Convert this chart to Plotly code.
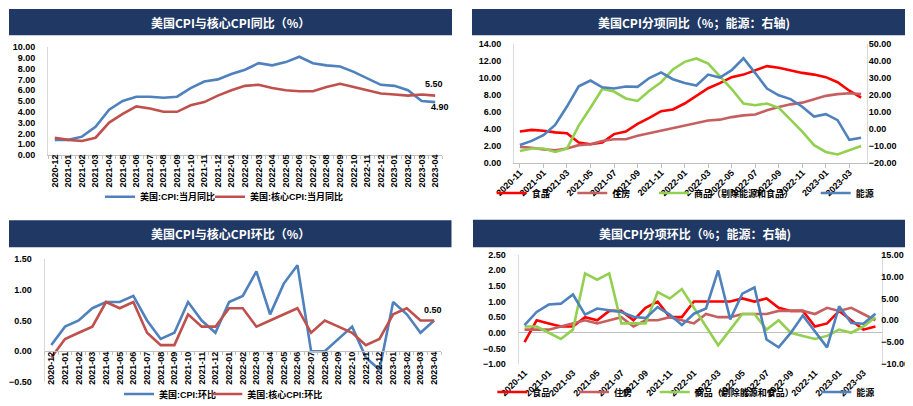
import plotly.graph_objects as go

W, H = 913, 406
def fx(p): return p / W
def fy(p): return 1 - p / H

# ---------------- data ----------------
months_a = ["2020-12", "2021-01", "2021-02", "2021-03", "2021-04", "2021-05", "2021-06",
            "2021-07", "2021-08", "2021-09", "2021-10", "2021-11", "2021-12",
            "2022-01", "2022-02", "2022-03", "2022-04", "2022-05", "2022-06",
            "2022-07", "2022-08", "2022-09", "2022-10", "2022-11", "2022-12",
            "2023-01", "2023-02", "2023-03", "2023-04"]
months_b = ["2020-11"] + months_a

cpi_yoy = [1.4, 1.4, 1.7, 2.6, 4.2, 5.0, 5.4, 5.4, 5.3, 5.4, 6.2, 6.8, 7.0, 7.5, 7.9,
           8.5, 8.3, 8.6, 9.1, 8.5, 8.3, 8.2, 7.7, 7.1, 6.5, 6.4, 6.0, 5.0, 4.9]
core_yoy = [1.6, 1.4, 1.3, 1.6, 3.0, 3.8, 4.5, 4.3, 4.0, 4.0, 4.6, 4.9, 5.5, 6.0, 6.4,
            6.5, 6.2, 6.0, 5.9, 5.9, 6.3, 6.6, 6.3, 6.0, 5.7, 5.6, 5.5, 5.6, 5.5]

cpi_mom = [0.1, 0.4, 0.5, 0.7, 0.8, 0.8, 0.9, 0.5, 0.2, 0.3, 0.8, 0.5, 0.3, 0.8, 0.9,
           1.3, 0.6, 1.1, 1.4, 0.0, 0.0, 0.2, 0.4, -0.1, -0.3, 0.8, 0.6, 0.3, 0.5]
core_mom = [-0.1, 0.2, 0.3, 0.4, 0.8, 0.7, 0.8, 0.3, 0.1, 0.1, 0.6, 0.4, 0.4, 0.7, 0.7,
            0.4, 0.5, 0.6, 0.7, 0.3, 0.5, 0.4, 0.3, 0.1, 0.2, 0.6, 0.7, 0.5, 0.5]

food_yoy = [3.7, 3.9, 3.8, 3.6, 3.5, 2.4, 2.2, 2.4, 3.4, 3.7, 4.6, 5.3, 6.1, 6.3, 7.0,
            7.9, 8.8, 9.4, 10.1, 10.4, 10.9, 11.4, 11.2, 10.9, 10.6, 10.4, 10.1, 9.5, 8.5, 7.7]
shelter_yoy = [1.9, 1.8, 1.6, 1.5, 1.7, 2.1, 2.2, 2.6, 2.8, 2.8, 3.2, 3.5, 3.8, 4.1, 4.4,
               4.7, 5.0, 5.1, 5.4, 5.6, 5.7, 6.2, 6.6, 6.9, 7.1, 7.5, 7.9, 8.1, 8.2, 8.1]
goods_yoy = [1.4, 1.7, 1.7, 1.3, 1.7, 4.4, 6.5, 8.7, 8.4, 7.6, 7.3, 8.5, 9.5, 11.0, 11.9,
             12.3, 11.7, 10.2, 8.7, 7.0, 6.8, 7.0, 6.5, 5.1, 3.7, 2.1, 1.3, 1.0, 1.5, 2.0]
energy_yoy = [-9.4, -7.0, -3.6, 2.4, 13.2, 25.1, 28.5, 24.5, 23.8, 25.0, 24.8, 30.0, 33.3, 29.3, 27.0,
              25.6, 32.0, 30.3, 34.6, 41.6, 32.9, 23.8, 19.8, 17.6, 13.1, 7.3, 8.7, 5.2, -6.4, -5.1]

food_mom = [-0.3, 0.4, 0.3, 0.2, 0.2, 0.5, 0.4, 0.7, 0.7, 0.4, 0.8, 1.0, 0.5, 0.5, 1.0,
            1.0, 1.0, 1.0, 1.1, 1.0, 1.1, 0.8, 0.7, 0.7, 0.2, 0.3, 0.7, 0.4, 0.1, 0.2]
shelter_mom = [0.1, 0.1, 0.1, 0.2, 0.3, 0.4, 0.3, 0.4, 0.5, 0.2, 0.4, 0.4, 0.5, 0.4, 0.3,
               0.6, 0.5, 0.5, 0.6, 0.6, 0.6, 0.7, 0.7, 0.7, 0.6, 0.8, 0.7, 0.8, 0.6, 0.4]
goods_mom = [0.2, 0.2, 0.0, -0.2, 0.1, 1.9, 1.7, 1.9, 0.3, 0.3, 0.3, 1.3, 1.1, 1.4, 0.8,
             0.2, -0.4, 0.1, 0.6, 0.6, 0.1, 0.4, 0.0, -0.1, -0.2, -0.1, 0.1, 0.0, 0.2, 0.5]
energy_mom = [-1.1, 1.9, 3.6, 3.8, 5.9, 1.3, 2.7, 2.3, 1.9, 0.8, 0.5, 3.0, 1.3, -1.1, 1.5,
              2.7, 11.4, 0.2, 6.1, 7.5, -4.4, -6.2, -2.9, 1.1, -2.5, -6.2, 3.2, -0.6, -0.8, 1.5]

titles = ["美国CPI与核心CPI同比（%）", "美国CPI分项同比（%；能源：右轴)",
          "美国CPI与核心CPI环比（%）", "美国CPI分项环比（%；能源：右轴)"]

# ---------------- style ----------------
BLUE = "#4F81BD"
RED_CORE = "#C0504D"
FOOD = "#FF0000"
SHELTER = "#C66060"
GOODS = "#92D050"
NAVY = "#1F3864"
AXL = "#D9D9D9"
XAXL = "#BFBFBF"
LW = 2.6

TICKFONT = dict(family="Liberation Sans, Arial, sans-serif", size=9, color="#000000", weight="bold")
LEGFONT = dict(family="Liberation Sans, Noto Sans CJK SC, sans-serif", size=9, color="#000000", weight="bold")
TITLEFONT = dict(family="Noto Sans CJK SC, Liberation Sans, sans-serif", size=12, color="#FFFFFF", weight="bold")

fig = go.Figure()

def line(x, y, name, color, xa, ya, leg):
    fig.add_trace(go.Scatter(x=x, y=y, mode="lines", name=name,
                             line=dict(color=color, width=LW),
                             xaxis=xa, yaxis=ya, legend=leg, showlegend=True))

# top-left
line(months_a, cpi_yoy, "美国:CPI:当月同比", BLUE, "x", "y", "legend")
line(months_a, core_yoy, "美国:核心CPI:当月同比", RED_CORE, "x", "y", "legend2")
# top-right
line(months_b, food_yoy, "食品", FOOD, "x2", "y2", "legend3")
line(months_b, shelter_yoy, "住房", SHELTER, "x2", "y2", "legend4")
line(months_b, goods_yoy, "商品（剔除能源和食品）", GOODS, "x2", "y2", "legend5")
line(months_b, energy_yoy, "能源", BLUE, "x2", "y5", "legend6")
# bottom-left
line(months_a, cpi_mom, "美国:CPI:环比", BLUE, "x3", "y3", "legend7")
line(months_a, core_mom, "美国:核心CPI:环比", RED_CORE, "x3", "y3", "legend8")
# bottom-right
line(months_b, food_mom, "食品", FOOD, "x4", "y4", "legend9")
line(months_b, shelter_mom, "住房", SHELTER, "x4", "y4", "legend10")
line(months_b, goods_mom, "商品（剔除能源和食品）", GOODS, "x4", "y4", "legend11")
line(months_b, energy_mom, "能源", BLUE, "x4", "y6", "legend12")

# ---------------- axes ----------------
def yax(domain, anchor, rng, dtick, side="left", standoff=10, **kw):
    d = dict(domain=domain, anchor=anchor, range=rng, dtick=dtick, tick0=0,
             tickformat=".2f", showline=True, linecolor=AXL, linewidth=1,
             ticks="", showgrid=False, zeroline=False, tickfont=TICKFONT,
             side=side, ticklabelstandoff=standoff, fixedrange=True, automargin=False)
    d.update(kw)
    return d

y1r, y2r, y5r = [0, 10], [0, 14], [-20, 50]
y3r, y4r, y6r = [-0.5, 1.5], [-1, 2.5], [-10, 15]

y1d = [fy(147), fy(39)]
y2d = [fy(155), fy(36)]
y3d = [fy(374), fy(251)]
y4d = [fy(356), fy(246.7)]

zero3 = y3d[0] + (0 - y3r[0]) / (y3r[1] - y3r[0]) * (y3d[1] - y3d[0])
zero4 = y4d[0] + (0 - y4r[0]) / (y4r[1] - y4r[0]) * (y4d[1] - y4d[0])

fig.update_layout(
    width=W, height=H, autosize=False,
    margin=dict(l=0, r=0, t=0, b=0, pad=0, autoexpand=False),
    paper_bgcolor="white", plot_bgcolor="rgba(0,0,0,0)",
    xaxis=dict(domain=[fx(40), fx(434)], anchor="y", type="category",
               range=[-0.5, len(months_a) - 0.5], tickmode="linear", tick0=0, dtick=1,
               tickson="boundaries", tickangle=-90, ticks="outside", ticklen=3,
               tickcolor=XAXL, showline=True, linecolor=XAXL, showgrid=False,
               tickfont=TICKFONT, ticklabelstandoff=-5, fixedrange=True, automargin=False),
    yaxis=yax(y1d, "x", y1r, 1),
    xaxis2=dict(domain=[fx(506), fx(859)], anchor="y2", type="category",
                range=[-0.5, len(months_b) - 0.5], tickmode="array",
                tickvals=months_b[::2], ticktext=months_b[::2], tickangle=-45,
                ticks="outside", ticklen=4, tickcolor=XAXL, showline=True,
                linecolor=XAXL, showgrid=False, tickfont=TICKFONT, ticklabelstandoff=-4,
                fixedrange=True, automargin=False),
    yaxis2=yax(y2d, "x2", y2r, 2),
    yaxis5=yax(y2d, "x2", y5r, 10, side="right", standoff=-1, overlaying="y2"),
    xaxis3=dict(domain=[fx(36.5), fx(433)], anchor="free", position=zero3, type="category",
                range=[-0.5, len(months_a) - 0.5], tickmode="linear", tick0=0, dtick=1,
                tickson="boundaries", tickangle=-90, ticks="outside", ticklen=3,
                tickcolor=XAXL, showline=True, linecolor=XAXL, showgrid=False,
                tickfont=TICKFONT, ticklabelstandoff=-4, fixedrange=True, automargin=False),
    yaxis3=yax(y3d, "x3", y3r, 0.5),
    xaxis4=dict(domain=[fx(510.5), fx(873.5)], anchor="y4", type="category",
                range=[-0.5, len(months_b) - 0.5], tickmode="array",
                tickvals=months_b[::2], ticktext=months_b[::2], tickangle=-45,
                ticks="", showline=False, showgrid=False, tickfont=TICKFONT,
                ticklabelstandoff=1, fixedrange=True, automargin=False),
    yaxis4=yax(y4d, "x4", y4r, 0.5, zeroline=True, zerolinecolor=XAXL, zerolinewidth=1),
    yaxis6=yax(y4d, "x4", y6r, 5, side="right", standoff=-3, overlaying="y4"),
    xaxis9=dict(overlaying="x4", anchor="free", position=zero4, type="linear",
                range=[-0.5, len(months_b) - 0.5], tickmode="array",
                tickvals=list(range(0, len(months_b), 2)), ticks="outside", ticklen=4,
                tickcolor=XAXL, showticklabels=False, showline=False, showgrid=False,
                zeroline=False, fixedrange=True, automargin=False),
)

# ---------------- legends ----------------
def leg(xtext, ycen):
    return dict(x=fx(xtext - 44), y=fy(ycen - 8), xanchor="left", yanchor="middle",
                bgcolor="rgba(0,0,0,0)", borderwidth=0, font=LEGFONT,
                itemwidth=30, orientation="h")

fig.update_layout(
    legend=leg(136, 196.7), legend2=leg(246, 196.7),
    legend3=leg(527.7, 193), legend4=leg(608.3, 193), legend5=leg(690, 193), legend6=leg(851.7, 193),
    legend7=leg(155, 394), legend8=leg(243.3, 394),
    legend9=leg(528.3, 392), legend10=leg(610, 392), legend11=leg(690.7, 392), legend12=leg(852.3, 392),
)

# ---------------- title bars ----------------
bars = [(1, 1, 444, 27.3), (464, 1, 908, 27.3), (1, 212.3, 443.5, 239.3), (465, 211.7, 909, 239.3)]
shapes = []
annotations = []
for (x0, y0, x1, y1), t in zip(bars, titles):
    shapes.append(dict(type="rect", xref="paper", yref="paper",
                       x0=fx(x0), x1=fx(x1), y0=fy(y1), y1=fy(y0),
                       fillcolor=NAVY, line=dict(width=0), layer="below"))
    annotations.append(dict(xref="paper", yref="paper", x=fx((x0 + x1) / 2),
                            y=fy((y0 + y1) / 2), text=t, showarrow=False,
                            xanchor="center", yanchor="middle", font=TITLEFONT))

LABFONT = dict(family="Liberation Sans, Arial, sans-serif", size=9, color="#000000", weight="bold")
annotations.append(dict(xref="x", yref="y", x=months_a[-1], y=core_yoy[-1],
                        text=f"{core_yoy[-1]:.2f}", showarrow=False, xshift=-1, yshift=12,
                        font=LABFONT))
annotations.append(dict(xref="x", yref="y", x=months_a[-1], y=cpi_yoy[-1],
                        text=f"{cpi_yoy[-1]:.2f}", showarrow=False, xshift=5, yshift=-5,
                        font=LABFONT))
annotations.append(dict(xref="x3", yref="y3", x=months_a[-1], y=cpi_mom[-1],
                        text=f"{cpi_mom[-1]:.2f}", showarrow=False, xshift=-1, yshift=11,
                        font=LABFONT))

fig.update_layout(shapes=shapes, annotations=annotations)

fig.write_html("out.html")
